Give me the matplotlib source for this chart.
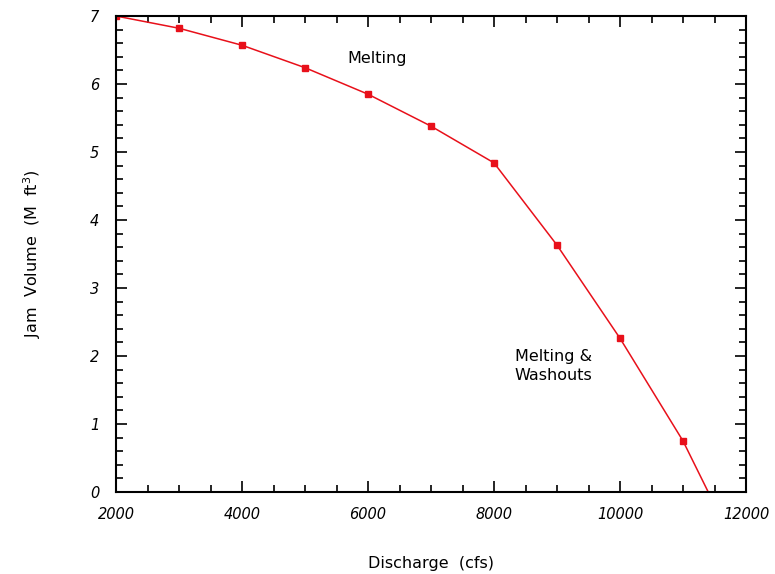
import numpy as np
import matplotlib.pyplot as plt
from matplotlib.ticker import MultipleLocator

# discharge (cfs) vs jam volume (M ft^3)
discharge = [2000, 3000, 4000, 5000, 6000, 7000, 8000, 9000, 10000, 11000, 11400]
volume = [7.0, 6.82, 6.57, 6.24, 5.85, 5.38, 4.84, 3.63, 2.26, 0.75, 0.0]
n_marked = 10  # last point (where the curve hits zero) has no marker

fig = plt.figure(figsize=(7.75, 5.74), dpi=100)
ax = fig.add_axes([0.1497, 0.1429, 0.8129, 0.8292])

ax.plot(discharge, volume, color='#e8101a', lw=1.1,
        marker='s', ms=4, markevery=list(range(n_marked)))

ax.set_xlim(2000, 12000)
ax.set_ylim(0, 7)
ax.xaxis.set_major_locator(MultipleLocator(2000))
ax.xaxis.set_minor_locator(MultipleLocator(500))
ax.yaxis.set_major_locator(MultipleLocator(1))
ax.yaxis.set_minor_locator(MultipleLocator(0.2))
ax.tick_params(which='both', direction='in', top=True, right=True, width=1.2)
ax.tick_params(which='major', length=8)
ax.tick_params(which='minor', length=5)
ax.tick_params(axis='x', pad=11)
ax.tick_params(axis='y', pad=12)
for lab in ax.get_xticklabels() + ax.get_yticklabels():
    lab.set_fontstyle('italic')
    lab.set_fontsize(10.5)
for s in ax.spines.values():
    s.set_linewidth(1.5)

ax.text(6150, 6.38, 'Melting', fontsize=11.5, ha='center', va='center')
ax.text(8330, 1.85, 'Melting &\nWashouts', fontsize=11.5, ha='left', va='center',
        linespacing=1.3)

ax.set_xlabel('Discharge  (cfs)', fontsize=11.5, labelpad=24)
ax.set_ylabel('Jam  Volume  (M  ft$^3$)', fontsize=11.5, labelpad=34)

fig.savefig('out.png', dpi=100)
